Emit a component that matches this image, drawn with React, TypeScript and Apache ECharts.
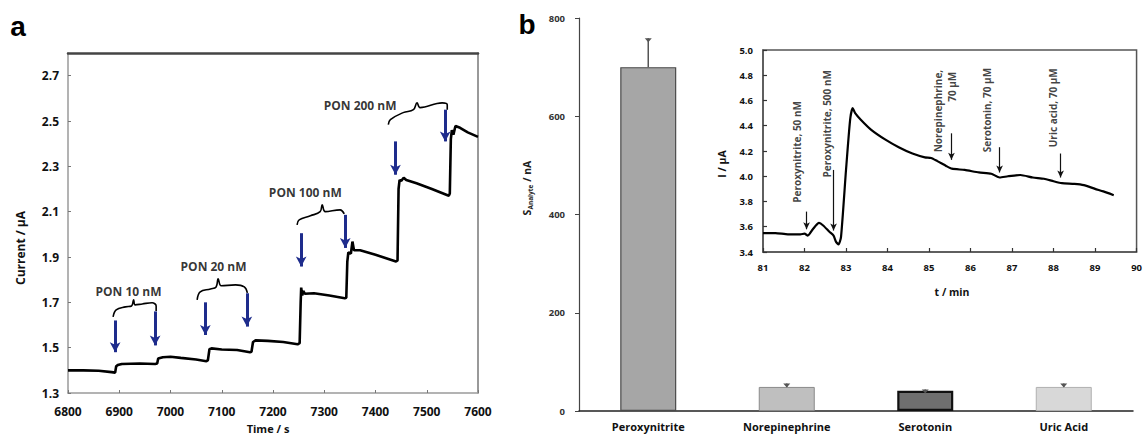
import React, { useEffect, useRef } from "react";
import * as echarts from "echarts";

const FONT = "'Open Sans', Lato, 'DejaVu Sans', sans-serif";

// ---------- Panel a: amperometric trace ----------
const timeA = [
  6800, 6830, 6860, 6885, 6892, 6894, 6897, 6905, 6940, 6970, 6974, 6976, 6985, 7000, 7020, 7050, 7070, 7073,
  7076, 7080, 7100, 7130, 7155, 7158, 7161, 7166, 7190, 7220, 7248, 7252, 7254, 7255, 7257, 7259, 7262, 7280,
  7310, 7340, 7343, 7345, 7347, 7352, 7355, 7358, 7370, 7400, 7440, 7443, 7445, 7447, 7450, 7455, 7460, 7480,
  7510, 7543, 7545, 7547, 7549, 7552, 7556, 7565, 7580, 7600,
];
const currentA = [
  1.4, 1.4, 1.398, 1.392, 1.39, 1.418, 1.423, 1.428, 1.43, 1.428, 1.43, 1.452, 1.458, 1.46, 1.455, 1.448, 1.44, 1.445,
  1.493, 1.497, 1.492, 1.49, 1.48, 1.482, 1.525, 1.532, 1.53, 1.525, 1.515, 1.52, 1.7, 1.765, 1.73, 1.75, 1.738, 1.74,
  1.73, 1.718, 1.72, 1.88, 1.92, 1.915, 1.968, 1.93, 1.93, 1.91, 1.88, 1.885, 2.2, 2.24, 2.235, 2.25, 2.24, 2.225,
  2.2, 2.17, 2.18, 2.42, 2.46, 2.44, 2.478, 2.47, 2.45, 2.43,
];
// injection arrows: time, start current, end current
const arrowTimeA = [6892, 6970, 7068, 7149, 7255, 7341, 7439, 7536];
const arrowFromA = [1.62, 1.66, 1.7, 1.74, 2.005, 2.086, 2.41, 2.55];
const arrowToA = [1.48, 1.51, 1.556, 1.593, 1.858, 1.94, 2.263, 2.41];
// braces
const brace10 = [[6888, 1.636], [6894, 1.667], [6912, 1.68], [6924, 1.684], [6928, 1.711], [6931, 1.689], [6945, 1.693], [6964, 1.698], [6972, 1.684], [6972, 1.662]];
const brace20 = [[7052, 1.711], [7058, 1.746], [7078, 1.759], [7089, 1.768], [7093, 1.804], [7099, 1.773], [7127, 1.777], [7144, 1.768], [7150, 1.742]];
const brace100 = [[7247, 2.042], [7251, 2.064], [7273, 2.082], [7292, 2.1], [7296, 2.13], [7302, 2.1], [7331, 2.108], [7339, 2.09]];
const brace200 = [[7425, 2.484], [7429, 2.506], [7454, 2.537], [7474, 2.55], [7481, 2.58], [7487, 2.559], [7530, 2.58], [7540, 2.572], [7540, 2.55]];
const ponLabels = ["PON 10 nM", "PON 20 nM", "PON 100 nM", "PON 200 nM"];
const ponLabelT = [6918, 7084, 7263, 7370];
const ponLabelV = [1.75, 1.857, 2.183, 2.568];

// ---------- Panel b: bars ----------
const analytes = ["Peroxynitrite", "Norepinephrine", "Serotonin", "Uric Acid"];
const signal = [700, 49, 41, 49];
const signalErr = [59, 7, 3, 7];
const barFill = ["#a6a6a6", "#bfbfbf", "#6f6f6f", "#d8d8d8"];
const barBorder = ["#4a4a4a", "#8a8a8a", "#111111", "#b0b0b0"];
const barBorderW = [1.2, 1, 2.2, 1];

// ---------- Inset ----------
const timeIn = [
  81.0, 81.3, 81.6, 81.9, 82.0, 82.08, 82.2, 82.35, 82.45, 82.6, 82.7, 82.76, 82.82, 82.88, 83.0, 83.1, 83.16, 83.22,
  83.35, 83.6, 83.95, 84.27, 84.6, 84.9, 85.05, 85.2, 85.42, 85.55, 85.86, 86.2, 86.5, 86.7, 86.9, 87.2, 87.5, 87.77,
  88.0, 88.2, 88.5, 88.73, 89.0, 89.2, 89.45,
];
const currentIn = [
  3.55, 3.55, 3.54, 3.54, 3.545, 3.53, 3.58, 3.63, 3.61, 3.56, 3.53, 3.48, 3.46, 3.52, 4.05, 4.45, 4.54, 4.5,
  4.45, 4.37, 4.29, 4.23, 4.18, 4.15, 4.145, 4.12, 4.08, 4.06, 4.05, 4.03, 4.02, 3.99, 4.0, 4.01, 3.99, 3.98,
  3.96, 3.945, 3.94, 3.93, 3.9, 3.88, 3.85,
];
const arrowTimeIn = [82.05, 82.7, 85.54, 86.7, 88.17];
const arrowFromIn = [3.72, 4.05, 4.34, 4.23, 4.18];
const arrowToIn = [3.58, 3.57, 4.13, 4.03, 3.99];
const inLabels = ["Peroxynitrite, 50 nM", "Peroxynitrite, 500 nM", "Norepinephrine,", "70 µM", "Serotonin, 70 µM", "Uric acid, 70 µM"];
const inLabelT = [81.81, 82.53, 85.22, 85.56, 86.39, 87.99];
const inLabelV = [3.79, 3.99, 4.19, 4.59, 4.19, 4.23];

const boldLabel = (size: number, extra: any = {}) => ({
  fontFamily: FONT,
  fontWeight: "bold",
  fontSize: size,
  color: "#111",
  ...extra,
});

export default function App() {
  const ref = useRef<HTMLDivElement>(null);

  useEffect(() => {
    document.body.style.margin = "0";
    if (!ref.current) return;
    const chart = echarts.init(ref.current, undefined, { renderer: "svg" });

    const braceSeries = [brace10, brace20, brace100, brace200].map((b) => ({
      type: "line",
      xAxisIndex: 0,
      yAxisIndex: 0,
      data: b,
      smooth: 0.4,
      showSymbol: false,
      symbol: "none",
      lineStyle: { color: "#000", width: 1.6 },
      silent: true,
      z: 3,
    }));

    const option: any = {
      animation: false,
      backgroundColor: "#fff",
      grid: [
        { left: 68, top: 53, width: 410, height: 340 },
        { left: 579, top: 18, width: 554, height: 393 },
        {
          left: 763,
          top: 50,
          width: 377,
          height: 202,
          show: true,
          backgroundColor: "#fff",
          borderColor: "#555",
          borderWidth: 1.5,
        },
      ],
      xAxis: [
        {
          gridIndex: 0,
          type: "value",
          min: 6800,
          max: 7600,
          interval: 100,
          axisLine: { show: true, onZero: false, lineStyle: { color: "#9a9a9a", width: 1.5 } },
          axisTick: { show: true, inside: true, length: 3, lineStyle: { color: "#777" } },
          axisLabel: { margin: 12, formatter: (v: number) => String(v), ...boldLabel(12) },
          splitLine: { show: false },
        },
        {
          gridIndex: 0,
          type: "value",
          position: "top",
          min: 6800,
          max: 7600,
          axisLine: { show: true, onZero: false, lineStyle: { color: "#444", width: 2.5 } },
          axisTick: { show: false },
          axisLabel: { show: false },
          splitLine: { show: false },
        },
        {
          gridIndex: 1,
          type: "category",
          data: analytes,
          axisLine: { show: true, lineStyle: { color: "#222", width: 1.5 } },
          axisTick: { show: false },
          axisLabel: { margin: 10, ...boldLabel(11) },
        },
        {
          gridIndex: 2,
          type: "value",
          min: 81,
          max: 90,
          interval: 1,
          axisLine: { show: true, onZero: false, lineStyle: { color: "#555", width: 1.5 } },
          axisTick: { show: true, inside: true, length: 4, lineStyle: { color: "#333", width: 1.2 } },
          axisLabel: { margin: 10, ...boldLabel(9.5) },
          splitLine: { show: false },
        },
      ],
      yAxis: [
        {
          gridIndex: 0,
          type: "value",
          min: 1.3,
          max: 2.8,
          interval: 0.2,
          axisLine: { show: true, onZero: false, lineStyle: { color: "#9a9a9a", width: 1.5 } },
          axisTick: { show: true, inside: true, length: 3, lineStyle: { color: "#777" } },
          axisLabel: {
            margin: 9,
            showMaxLabel: false,
            formatter: (v: number) => v.toFixed(1),
            ...boldLabel(12),
          },
          splitLine: { show: false },
        },
        {
          gridIndex: 0,
          type: "value",
          position: "right",
          min: 1.3,
          max: 2.8,
          axisLine: { show: true, onZero: false, lineStyle: { color: "#777", width: 1.5 } },
          axisTick: { show: false },
          axisLabel: { show: false },
          splitLine: { show: false },
        },
        {
          gridIndex: 1,
          type: "value",
          min: 0,
          max: 800,
          interval: 200,
          axisLine: { show: true, lineStyle: { color: "#444", width: 1.2 } },
          axisTick: { show: true, length: 4, lineStyle: { color: "#444" } },
          axisLabel: { margin: 14, ...boldLabel(9.5, { color: "#333" }) },
          splitLine: { show: false },
        },
        {
          gridIndex: 2,
          type: "value",
          min: 3.4,
          max: 5.0,
          interval: 0.2,
          axisLine: { show: true, onZero: false, lineStyle: { color: "#555", width: 1.5 } },
          axisTick: { show: true, inside: true, length: 4, lineStyle: { color: "#333", width: 1.2 } },
          axisLabel: { margin: 10, formatter: (v: number) => v.toFixed(1), ...boldLabel(9.5) },
          splitLine: { show: false },
        },
      ],
      series: [
        {
          type: "line",
          xAxisIndex: 0,
          yAxisIndex: 0,
          data: timeA.map((t, i) => [t, currentA[i]]),
          showSymbol: false,
          symbol: "none",
          lineStyle: { color: "#000", width: 2.6 },
          z: 4,
          markLine: {
            silent: true,
            symbol: ["none", "arrow"],
            symbolSize: [8, 10],
            label: { show: false },
            lineStyle: { color: "#1e2c8c", width: 3, type: "solid" },
            data: arrowTimeA.map((t, i) => [{ coord: [t, arrowFromA[i]] }, { coord: [t, arrowToA[i]] }]),
          },
        },
        ...braceSeries,
        {
          type: "scatter",
          xAxisIndex: 0,
          yAxisIndex: 0,
          symbolSize: 1,
          itemStyle: { color: "rgba(0,0,0,0)" },
          silent: true,
          data: ponLabels.map((n, i) => ({ name: n, value: [ponLabelT[i], ponLabelV[i]] })),
          label: { show: true, position: "inside", formatter: "{b}", ...boldLabel(12, { color: "#000" }) },
          z: 5,
        },
        {
          type: "bar",
          xAxisIndex: 2,
          yAxisIndex: 2,
          barWidth: 56,
          data: signal.map((v, i) => ({
            value: v,
            itemStyle: { color: barFill[i], borderColor: barBorder[i], borderWidth: barBorderW[i] },
          })),
        },
        {
          type: "custom",
          xAxisIndex: 2,
          yAxisIndex: 2,
          silent: true,
          data: signal.map((v, i) => [i, v, signalErr[i]]),
          encode: { x: 0, y: 1 },
          renderItem: (params: any, api: any) => {
            const i = api.value(0);
            const v = api.value(1);
            const e = api.value(2);
            const base = api.coord([i, v]);
            const top = api.coord([i, v + e]);
            return {
              type: "group",
              children: [
                {
                  type: "line",
                  shape: { x1: base[0], y1: base[1], x2: top[0], y2: top[1] },
                  style: { stroke: "#555", lineWidth: 1.5 },
                },
                {
                  type: "polygon",
                  shape: { points: [[top[0] - 3.5, top[1]], [top[0] + 3.5, top[1]], [top[0], top[1] + 4]] },
                  style: { fill: "#555" },
                },
              ],
            };
          },
          z: 3,
        },
        {
          type: "line",
          xAxisIndex: 3,
          yAxisIndex: 3,
          data: timeIn.map((t, i) => [t, currentIn[i]]),
          showSymbol: false,
          symbol: "none",
          smooth: 0.2,
          lineStyle: { color: "#000", width: 2.2 },
          z: 6,
          markLine: {
            silent: true,
            symbol: ["none", "arrow"],
            symbolSize: [5, 7],
            label: { show: false },
            lineStyle: { color: "#111", width: 1.2, type: "solid" },
            data: arrowTimeIn.map((t, i) => [{ coord: [t, arrowFromIn[i]] }, { coord: [t, arrowToIn[i]] }]),
          },
        },
        {
          type: "scatter",
          xAxisIndex: 3,
          yAxisIndex: 3,
          symbolSize: 1,
          itemStyle: { color: "rgba(0,0,0,0)" },
          silent: true,
          data: inLabels.map((n, i) => ({ name: n, value: [inLabelT[i], inLabelV[i]] })),
          label: {
            show: true,
            position: "inside",
            rotate: 90,
            align: "left",
            verticalAlign: "middle",
            formatter: "{b}",
            ...boldLabel(10, { color: "#111" }),
          },
          z: 7,
        },
      ],
      graphic: [
        { type: "text", x: 18, y: 26, style: { text: "a", fontFamily: "'Liberation Sans', Arial, sans-serif", fontWeight: "bold", fontSize: 28, fill: "#000", align: "center", verticalAlign: "middle" } },
        { type: "text", x: 527, y: 24, style: { text: "b", fontFamily: "'Liberation Sans', Arial, sans-serif", fontWeight: "bold", fontSize: 28, fill: "#000", align: "center", verticalAlign: "middle" } },
        { type: "text", x: 20, y: 248, rotation: Math.PI / 2, style: { text: "Current / µA", fontFamily: FONT, fontWeight: "bold", fontSize: 12, fill: "#111", align: "center", verticalAlign: "middle" } },
        { type: "text", x: 268, y: 423, style: { text: "Time / s", fontFamily: FONT, fontWeight: "bold", fontSize: 11, fill: "#111", align: "center", verticalAlign: "top" } },
        {
          type: "text",
          x: 527,
          y: 188,
          rotation: Math.PI / 2,
          style: {
            text: "{s|S}{sub|Analyte}{s| / nA}",
            align: "center",
            verticalAlign: "middle",
            fill: "#222",
            rich: {
              s: { fontFamily: FONT, fontWeight: "bold", fontSize: 10.5, lineHeight: 14, fill: "#222", verticalAlign: "middle" },
              sub: { fontFamily: FONT, fontWeight: "bold", fontSize: 6.5, lineHeight: 14, fill: "#222", verticalAlign: "bottom" },
            },
          },
        },
        { type: "text", x: 722, y: 164, rotation: Math.PI / 2, style: { text: "I / µA", fontFamily: FONT, fontWeight: "bold", fontSize: 10.5, fill: "#111", align: "center", verticalAlign: "middle" } },
        { type: "text", x: 952, y: 292, style: { text: "t / min", fontFamily: FONT, fontWeight: "bold", fontSize: 10.5, fill: "#111", align: "center", verticalAlign: "middle" } },
      ],
    };

    chart.setOption(option);
    return () => chart.dispose();
  }, []);

  return <div ref={ref} style={{ width: 1145, height: 438 }} />;
}
